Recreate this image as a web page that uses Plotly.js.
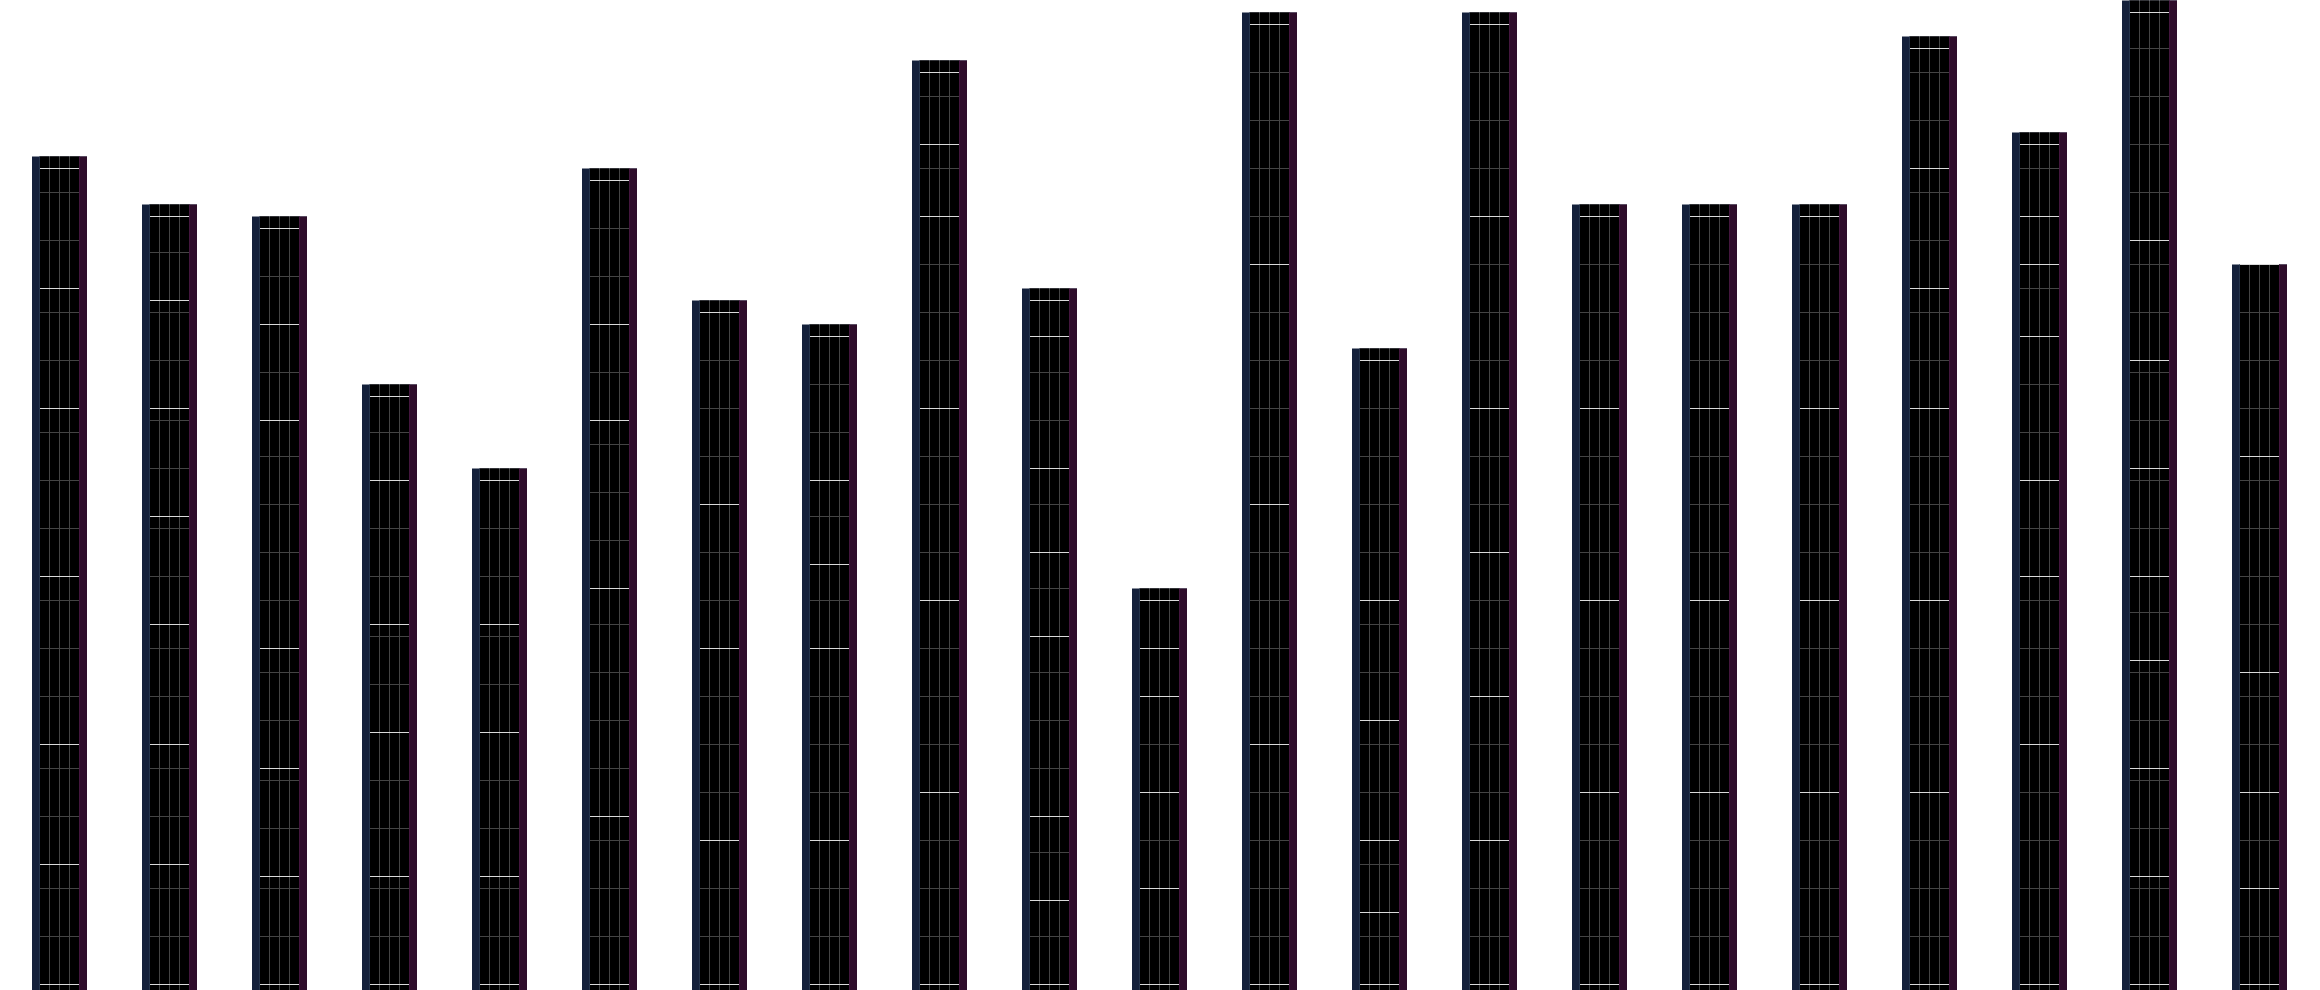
<!DOCTYPE html>
<html>
<head>
<meta charset="utf-8">
<script src="https://cdn.plot.ly/plotly-3.0.1.min.js"></script>
<style>html,body{margin:0;padding:0;background:#fff;}#chart{width:2320px;height:990px;}</style>
</head>
<body>
<div id="chart"></div>
<script>
// categories (no visible labels in the reference)
const categories = ['1','2','3','4','5','6','7','8','9','10','11','12','13','14','15','16','17','18','19','20','21'];

// stacked segment heights, bottom to top (white separators between segments)
const layer1 = [5, 5, 4.5, 4.5, 4.5, 7, 6, 6, 8, 3.5, 4, 10, 3, 6, 8, 8, 8, 8, 10, 4.5, 4];
const layer2 = [5, 5, 4.5, 6, 6, 9.5, 8, 8, 8, 3.5, 4, 10, 3, 6, 8, 8, 8, 8, 7, 4.5, 4];
const layer3 = [7, 5, 5, 4.5, 4.5, 7, 6, 3.5, 8, 7.5, 4, 10, 5, 6, 8, 8, 8, 8, 4, 4.5, 5];
const layer4 = [7, 4.5, 9.5, 6, 6, 4, 8, 3.5, 8, 3.5, 2, 10, 5, 6, 8, 8, 8, 5, 6, 3.5, 9];
const layer5 = [5, 4.5, 4, 3.5, 0, 6, 0, 6, 3, 3.5, 2, 0, 10, 8, 0, 0, 0, 5, 3, 4.5, 8];
const layer6 = [5, 4.5, 4, 0, 0, 0, 0, 0, 3, 5.5, 0, 0, 0, 8, 0, 0, 0, 5, 2, 4.5, 0];
const layer7 = [0, 3.5, 0, 0, 0, 0, 0, 0, 0, 1.5, 0, 0, 0, 0, 0, 0, 0, 0, 3, 5, 0];
const layer8 = [0, 0, 0, 0, 0, 0, 0, 0, 0, 0, 0, 0, 0, 0, 0, 0, 0, 0, 0, 9.5, 0];
// small cap above the last separator
const cap = [0.5, 0.5, 0.5, 0.5, 0.5, 0.5, 0.5, 0.5, 0.5, 0.5, 0.5, 0.5, 0.5, 0.5, 0.5, 0.5, 0.5, 0.5, 0.5, 0.5, 0];

const layers = [layer1, layer2, layer3, layer4, layer5, layer6, layer7, layer8];

// derived: separators, inner grid lines and totals
const sepX = [], sepY = [], gridX = [], gridY = [], totals = [];
categories.forEach((c, i) => {
  let lo = 0;
  sepX.push(c); sepY.push(0);
  layers.forEach(L => {
    const h = L[i];
    if (h > 0) {
      for (let g = lo + 2; g < lo + h - 1e-9; g += 2) { gridX.push(c); gridY.push(g); }
      lo += h;
      sepX.push(c); sepY.push(lo);
    }
  });
  totals.push(lo + cap[i]);
});

const BAND = 110;          // px per category
const NAVY = '#14203a';
const NAVY_EDGE = '#24334a';
const PLUM = '#2e0d2a';
const PLUM_EDGE = '#43163e';
const GRID = '#444444';
const WHITE = '#dadada';
const baseVal = -1;
const barY = totals.map(t => t - baseVal);
const LINE_SIZE = 39 / 1.4;   // line-ew symbols are drawn 1.4x the marker size

function barTrace(offPx, widPx, color) {
  return {
    type: 'bar', x: categories, y: barY, base: baseVal,
    offset: offPx / BAND, width: widPx / BAND,
    marker: {color: color, line: {width: 0}},
    hoverinfo: 'skip', showlegend: false
  };
}

const traces = [
  barTrace(-27.5, 55, NAVY),
  barTrace(-20.5, 1, NAVY_EDGE),
  barTrace(19.5, 8, PLUM),
  barTrace(19.5, 1, PLUM_EDGE),
  barTrace(-19.5, 39, GRID),
  barTrace(-19.5, 9, '#000000'),
  barTrace(-9.5, 9, '#000000'),
  barTrace(0.5, 9, '#000000'),
  barTrace(10.5, 9, '#000000'),
  {
    type: 'scatter', mode: 'markers', x: gridX, y: gridY,
    marker: {symbol: 'line-ew', size: LINE_SIZE, color: GRID, line: {color: GRID, width: 1}},
    hoverinfo: 'skip', showlegend: false
  },
  {
    type: 'scatter', mode: 'markers', x: sepX, y: sepY,
    marker: {symbol: 'line-ew', size: LINE_SIZE, color: WHITE, line: {color: WHITE, width: 1}},
    hoverinfo: 'skip', showlegend: false
  }
];

const W = 2320, H = 990, UNIT = 24;
const yTop = 984.5 / UNIT;
const layout = {
  width: W, height: H,
  margin: {l: 0, r: 0, t: 0, b: 0, pad: 0},
  paper_bgcolor: '#ffffff', plot_bgcolor: '#ffffff',
  barmode: 'overlay',
  showlegend: false,
  xaxis: {type: 'category', visible: false, range: [-59.5 / BAND, (W - 59.5) / BAND], fixedrange: true},
  yaxis: {visible: false, range: [yTop - H / UNIT, yTop], fixedrange: true}
};

Plotly.newPlot('chart', traces, layout, {staticPlot: true, displayModeBar: false});
</script>
</body>
</html>
